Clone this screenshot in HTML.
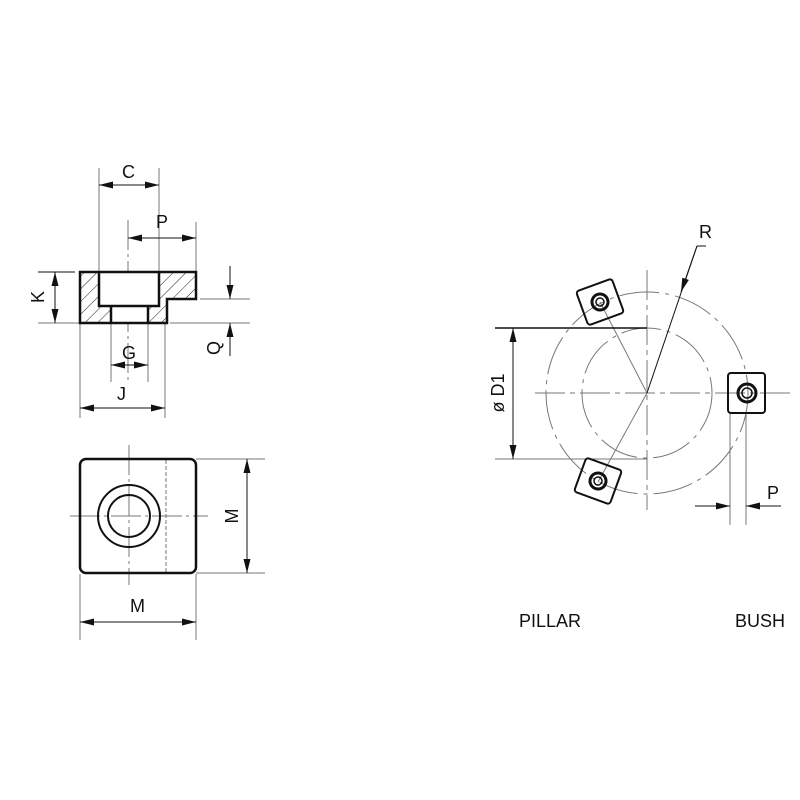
<!DOCTYPE html>
<html><head><meta charset="utf-8"><style>
html,body{margin:0;padding:0;background:#fff}
svg{display:block}
text{font-family:"Liberation Sans",sans-serif;fill:#111}
</style></head><body>
<svg width="800" height="800" viewBox="0 0 800 800" xmlns="http://www.w3.org/2000/svg">
<defs>
<marker id="a" viewBox="0 0 10 10" refX="10" refY="5" markerWidth="14" markerHeight="7" orient="auto-start-reverse" markerUnits="userSpaceOnUse" preserveAspectRatio="none"><path d="M0,0 L10,5 L0,10 z" fill="#111"/></marker>
<pattern id="h" width="9" height="9" patternUnits="userSpaceOnUse" patternTransform="rotate(45)"><line x1="0" y1="0" x2="0" y2="9" stroke="#222" stroke-width="1"/></pattern>
</defs>
<g stroke="#777" stroke-width="1" fill="none">
<line x1="99" y1="168" x2="99" y2="272"/>
<line x1="159" y1="168" x2="159" y2="272"/>
<line x1="196" y1="222" x2="196" y2="272"/>
<line x1="128" y1="220" x2="128" y2="380" stroke-dasharray="30,4,3,4"/>
<line x1="200" y1="299" x2="250" y2="299"/>
<line x1="170" y1="323" x2="250" y2="323"/>
<line x1="38" y1="323" x2="80" y2="323"/>
<line x1="111" y1="323" x2="111" y2="382"/>
<line x1="148" y1="323" x2="148" y2="382"/>
<line x1="80" y1="323" x2="80" y2="418"/>
<line x1="165" y1="323" x2="165" y2="418"/>
<line x1="70" y1="516" x2="208" y2="516" stroke-dasharray="30,4,3,4"/>
<line x1="129" y1="445" x2="129" y2="585" stroke-dasharray="30,4,3,4"/>
<line x1="166" y1="460" x2="166" y2="572" stroke-dasharray="4,2"/>
<line x1="196" y1="459" x2="265" y2="459"/>
<line x1="196" y1="573" x2="265" y2="573"/>
<line x1="80" y1="574" x2="80" y2="640"/>
<line x1="196" y1="574" x2="196" y2="640"/>
<circle cx="647" cy="393" r="65" stroke-dasharray="40,6,4,6"/>
<circle cx="647" cy="393" r="101" stroke-dasharray="40,6,4,6"/>
<line x1="535" y1="393" x2="790" y2="393" stroke-dasharray="30,5,5,5"/>
<line x1="647" y1="270" x2="647" y2="510" stroke-dasharray="30,5,5,5"/>
<line x1="495" y1="459" x2="647" y2="459"/>
<line x1="600" y1="302" x2="647" y2="393"/>
<line x1="598" y1="482" x2="647" y2="393"/>
<line x1="730" y1="413" x2="730" y2="525"/>
<line x1="746" y1="413" x2="746" y2="525"/>
</g>
<g stroke="#111" stroke-width="1" fill="none">
<line x1="99" y1="185" x2="159" y2="185" marker-start="url(#a)" marker-end="url(#a)"/>
<line x1="128" y1="238" x2="196" y2="238" marker-start="url(#a)" marker-end="url(#a)"/>
<line x1="38" y1="272" x2="75" y2="272"/>
<line x1="55" y1="272" x2="55" y2="323" marker-start="url(#a)" marker-end="url(#a)"/>
<line x1="230" y1="266" x2="230" y2="299" marker-end="url(#a)"/>
<line x1="230" y1="356" x2="230" y2="323" marker-end="url(#a)"/>
<line x1="111" y1="365" x2="148" y2="365" marker-start="url(#a)" marker-end="url(#a)"/>
<line x1="80" y1="408" x2="165" y2="408" marker-start="url(#a)" marker-end="url(#a)"/>
<line x1="247" y1="459" x2="247" y2="573" marker-start="url(#a)" marker-end="url(#a)"/>
<line x1="80" y1="622" x2="196" y2="622" marker-start="url(#a)" marker-end="url(#a)"/>
<line x1="495" y1="328" x2="647" y2="328" stroke-width="1.5"/>
<line x1="513" y1="328" x2="513" y2="459" marker-start="url(#a)" marker-end="url(#a)"/>
<line x1="697" y1="246" x2="647" y2="393"/>
<line x1="697" y1="246" x2="681" y2="292" marker-end="url(#a)"/>
<line x1="697" y1="246" x2="706" y2="246"/>
<line x1="695" y1="506" x2="730" y2="506" marker-end="url(#a)"/>
<line x1="781" y1="506" x2="746" y2="506" marker-end="url(#a)"/>
</g>
<path d="M80,272 H196 V299 H167 V323 H80 Z" fill="url(#h)" stroke="none"/>
<rect x="99" y="272" width="60" height="34" fill="#fff"/>
<rect x="111" y="306" width="37" height="17" fill="#fff"/>
<g stroke="#111" stroke-width="2.5" fill="none">
<path d="M80,272 H196 V299 H167 V323 H80 Z"/>
<path d="M99,272 V306 H159 V272"/>
<path d="M111,306 V323 M148,306 V323"/>
<rect x="80" y="459" width="116" height="114" rx="6"/>
<circle cx="129" cy="516" r="31" stroke-width="2"/>
<circle cx="129" cy="516" r="21" stroke-width="2"/>
<rect x="728" y="373" width="37" height="40" rx="3" stroke-width="2"/>
<circle cx="747" cy="393" r="9" stroke-width="3"/>
<circle cx="747" cy="393" r="5" stroke-width="1.5"/>
<g transform="translate(600,302) rotate(-20)"><rect x="-19" y="-18" width="38" height="36" rx="3" stroke-width="2"/><circle r="8" stroke-width="3"/><circle r="4" stroke-width="1.5"/></g>
<g transform="translate(598,481) rotate(20)"><rect x="-19" y="-18" width="38" height="36" rx="3" stroke-width="2"/><circle r="8" stroke-width="3"/><circle r="4" stroke-width="1.5"/></g>
</g>
<g font-size="18">
<text x="122" y="178">C</text>
<text x="156" y="228">P</text>
<text x="122" y="359">G</text>
<text x="117" y="400">J</text>
<text x="130" y="612">M</text>
<text transform="translate(44,297) rotate(-90)" text-anchor="middle">K</text>
<text transform="translate(220,348) rotate(-90)" text-anchor="middle">Q</text>
<text transform="translate(238,516) rotate(-90)" text-anchor="middle">M</text>
<text transform="translate(504,393) rotate(-90)" text-anchor="middle">ø D1</text>
<text x="699" y="238">R</text>
<text x="767" y="499">P</text>
<text x="519" y="627">PILLAR</text>
<text x="735" y="627">BUSH</text>
</g>
</svg>
</body></html>
